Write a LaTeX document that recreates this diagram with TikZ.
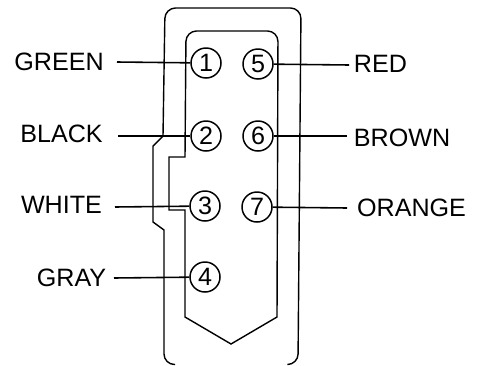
\documentclass[tikz,border=0pt]{standalone}
\usepackage{fontspec}
\setmainfont{Liberation Sans}
\tikzset{vertex/.style = {shape=circle,draw,line width=0.85pt,minimum size=30*0.02cm,inner sep=0pt,font=\fontsize{14.3}{14.3}\selectfont}}
\tikzset{wire/.style = {line width=0.9pt}}
\tikzset{shell/.style = {line width=0.8pt}}
\tikzset{colourname/.style = {inner sep=0pt,font=\fontsize{14.3}{14.3}\selectfont}}

\begin{document}
\begin{tikzpicture}[x=0.02cm,y=-0.02cm]
    \useasboundingbox (0,0) rectangle (479,365);

    \node[vertex] (1) at (206,63) {1};
    \node[vertex] (2) at (206,136) {2};
    \node[vertex] (3) at (205,206) {3};
    \node[vertex] (4) at (205,277) {4};
    \node[vertex] (5) at (258,64) {5};
    \node[vertex] (6) at (258,136) {6};
    \node[vertex] (7) at (257,207) {7};

    \node[colourname] (GREEN) at (59,62) {GREEN};
    \node[colourname] (BLACK) at (61.5,134) {BLACK};
    \node[colourname] (WHITE) at (61.5,205) {WHITE};
    \node[colourname] (GRAY) at (71.5,278) {GRAY};
    \node[colourname] (RED) at (380.5,64) {RED};
    \node[colourname] (BROWN) at (402,138) {BROWN};
    \node[colourname] (ORANGE) at (411.5,208) {ORANGE};

    % wires
    \coordinate (g) at (117,62);
    \coordinate (b) at (118,136);
    \coordinate (w) at (115,207);
    \coordinate (y) at (114,278);
    \coordinate (r) at (349,65);
    \coordinate (n) at (347,136);
    \coordinate (o) at (347,208);
    \draw[wire] (g) -- (1);
    \draw[wire] (b) -- (2);
    \draw[wire] (w) -- (3);
    \draw[wire] (y) -- (4);
    \draw[wire] (r) -- (5);
    \draw[wire] (n) -- (6);
    \draw[wire] (o) -- (7);

    % connector shell
    \draw[shell] (175,364.5) [rounded corners=6pt] -- (164,364.5) [sharp corners] -- (164,230) -- (153,222) -- (153,146) -- (163,136) [rounded corners=6pt] -- (165,8) -- (301,8) -- (298,364.5) [sharp corners] -- (288,364.5);
    \draw[shell] (185,157) [rounded corners=6pt] -- (186,31) -- (278,31) [sharp corners] -- (277,317) -- (231,344) -- (185,317) -- (185,210) -- (169,210) -- (169,157) -- cycle;
\end{tikzpicture}
\end{document}
